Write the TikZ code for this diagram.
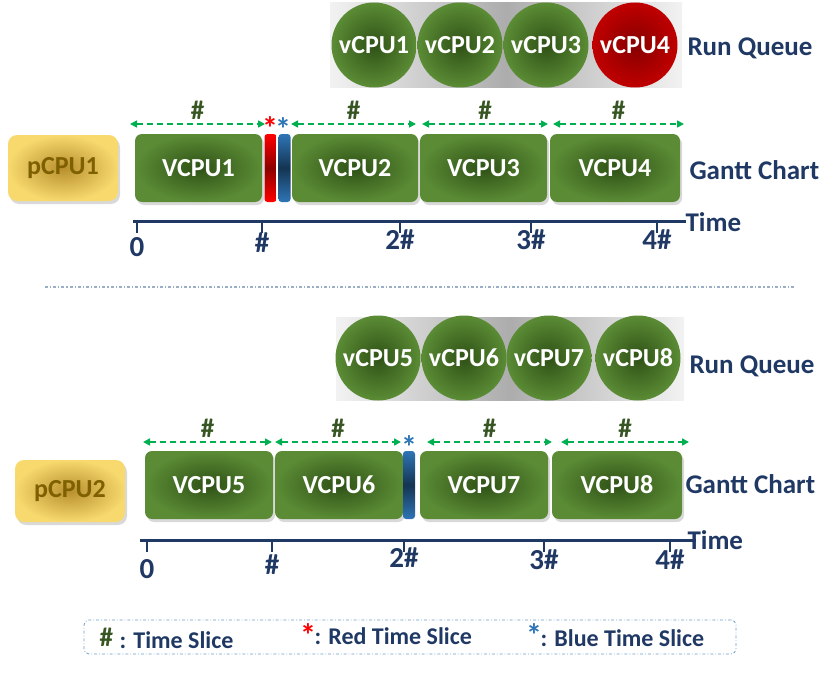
\documentclass[tikz,border=0pt]{standalone}
\usepackage{fontspec}
\setmainfont{Carlito}
\usetikzlibrary{arrows.meta,shadows}

\definecolor{navy}{HTML}{1F3864}
\definecolor{leaf}{HTML}{5B8C35}
\definecolor{leafdark}{HTML}{2F5116}
\definecolor{hashgreen}{HTML}{375623}
\definecolor{slicegreen}{HTML}{00B050}
\definecolor{ruby}{HTML}{C00000}
\definecolor{gold}{HTML}{F7D96E}
\definecolor{golddark}{HTML}{B8902E}
\definecolor{olive}{HTML}{7F6000}
\definecolor{steel}{HTML}{2E75B6}

\newcommand\setfs[1]{\fontsize{#1}{#1}\selectfont}

\begin{document}
\begin{tikzpicture}[x=1pt, y=-1pt,
    task/.style={rounded corners=7pt, inner color=leafdark, outer color=leaf,
      minimum height=68pt, text=white, font=\bfseries\setfs{26},
      drop shadow={opacity=0.3, shadow xshift=2pt, shadow yshift=-3pt}},
    queue/.style={circle, minimum size=85pt, inner sep=0pt, inner color=leafdark,
      outer color=leaf, text=white, font=\bfseries\setfs{26}},
    cpu/.style={rounded corners=9pt, inner color=golddark, outer color=gold,
      minimum width=110pt, minimum height=66pt, text=olive, font=\bfseries\setfs{26},
      drop shadow={opacity=0.3, shadow xshift=2pt, shadow yshift=-3pt}},
    bar/.style={rounded corners=3pt, minimum width=12pt, minimum height=68pt, inner sep=0pt},
    slice/.style={slicegreen, line width=1.6pt, dash pattern=on 6pt off 4pt,
      {Triangle[width=7pt,length=7pt]}-{Triangle[width=7pt,length=7pt]}},
    hash/.style={text=hashgreen, font=\bfseries\setfs{27}},
    tag/.style={text=navy, font=\bfseries\setfs{27}, anchor=west},
    axis/.style={navy, line width=3pt},
    tick/.style={navy, line width=2.5pt},
    ticklabel/.style={text=navy, font=\bfseries\setfs{29}},
    star/.style={font=\bfseries\setfs{32}, inner sep=0pt},
    keytext/.style={tag, font=\bfseries\setfs{24}}]
  \useasboundingbox (0,0) rectangle (835,677);

  % first physical cpu
  \fill[left color=gray!10, right color=gray!10, middle color=gray!65] (330,3) rectangle (682,87);
  \node[queue] (q1) at (374,45) {vCPU1};
  \node[queue] (q2) at (460,45) {vCPU2};
  \node[queue] (q3) at (546,45) {vCPU3};
  \node[queue, inner color=ruby!70!black, outer color=ruby] (q4) at (635,45) {vCPU4};
  \node[tag] (rq1) at (684,48) {Run Queue};

  \node[cpu] (p1) at (63,168) {pCPU1};
  \node[task, minimum width=127pt] (g1) at (198.5,168) {VCPU1};
  \node[bar, top color=red, bottom color=red, middle color=red!55!black] (r1) at (270.5,168) {};
  \node[bar, top color=steel, bottom color=steel, middle color=steel!45!black] (b1) at (284.5,168) {};
  \node[task, minimum width=126pt] (g2) at (355,168) {VCPU2};
  \node[task, minimum width=127pt] (g3) at (483.5,168) {VCPU3};
  \node[task, minimum width=130pt] (g4) at (615,168) {VCPU4};
  \node[tag] (gc1) at (686,170) {Gantt Chart};

  \node[star, text=red] (sr1) at (270,128) {*};
  \node[star, text=steel] (sb1) at (283,129) {*};
  \coordinate (s1a) at (130,124); \coordinate (s1b) at (265,124);
  \coordinate (s2a) at (291,124); \coordinate (s2b) at (416,124);
  \coordinate (s3a) at (422,124); \coordinate (s3b) at (548,124);
  \coordinate (s4a) at (553,124); \coordinate (s4b) at (684,124);
  \foreach \i in {1,...,4}
    \draw[slice] (s\i a) -- (s\i b) node[hash, midway, above=0pt] (h1\i) {\#};

  \coordinate (x1a) at (133,221); \coordinate (x1b) at (686,221);
  \draw[axis] (x1a) -- (x1b);
  \node[tag, text=navy] (t1) at (682,222) {Time};
  \foreach \x/\y/\l [count=\i] in {137/247/0, 262/243/\#, 400/240/2\#, 531/240/3\#, 657/240/4\#} {
    \draw[tick] (\x,221) -- (\x,233);
    \node[ticklabel] (k1\i) at (\x,\y) {\l};
  }

  % separator
  \draw[steel!50!gray!60, line width=1.2pt, dash dot] (45,287) -- (795,287);

  % second physical cpu
  \fill[left color=gray!10, right color=gray!10, middle color=gray!65] (336,317) rectangle (684,400);
  \node[queue] (q5) at (378,358) {vCPU5};
  \node[queue] (q6) at (464,358) {vCPU6};
  \node[queue] (q7) at (549,358) {vCPU7};
  \node[queue] (q8) at (638,358) {vCPU8};
  \node[tag] (rq2) at (686,366) {Run Queue};

  \node[cpu, minimum height=62pt] (p2) at (70,491) {pCPU2};
  \node[task, minimum width=128pt] (g5) at (209,485) {VCPU5};
  \node[task, minimum width=128pt] (g6) at (339,485) {VCPU6};
  \node[bar, top color=steel, bottom color=steel, middle color=steel!45!black] (b2) at (409,485) {};
  \node[task, minimum width=128pt] (g7) at (484,485) {VCPU7};
  \node[task, minimum width=130pt] (g8) at (617,485) {VCPU8};
  \node[tag] (gc2) at (682,484) {Gantt Chart};

  \node[star, text=steel] (sb2) at (409,447) {*};
  \coordinate (s5a) at (143,442); \coordinate (s5b) at (272,442);
  \coordinate (s6a) at (275,442); \coordinate (s6b) at (401,442);
  \coordinate (s7a) at (427,442); \coordinate (s7b) at (552,442);
  \coordinate (s8a) at (561,442); \coordinate (s8b) at (689,442);
  \foreach \i in {5,...,8}
    \draw[slice] (s\i a) -- (s\i b) node[hash, midway, above=0pt] (h2\i) {\#};

  \coordinate (x2a) at (140,540); \coordinate (x2b) at (696,540);
  \draw[axis] (x2a) -- (x2b);
  \node[tag, text=navy] (t2) at (684,540) {Time};
  \foreach \x/\y/\l [count=\i] in {147/569/0, 272/565/\#, 404/558/2\#, 544/560/3\#, 670/560/4\#} {
    \draw[tick] (\x,540) -- (\x,552);
    \node[ticklabel] (k2\i) at (\x,\y) {\l};
  }

  % legend
  \node[draw=steel!70, thick, dash dot, rounded corners=5pt, minimum width=652pt,
    minimum height=34pt] (key) at (410,637) {};
  \node[hash, anchor=west] (kh) at (96,637) {\#};
  \node[keytext] (kt) at (116,640) {: Time Slice};
  \node[star, text=red] (kr) at (308,635) {*};
  \node[keytext] (krt) at (311,636) {: Red Time Slice};
  \node[star, text=steel] (kb) at (534,635) {*};
  \node[keytext] (kbt) at (537,638) {: Blue Time Slice};
\end{tikzpicture}
\end{document}
